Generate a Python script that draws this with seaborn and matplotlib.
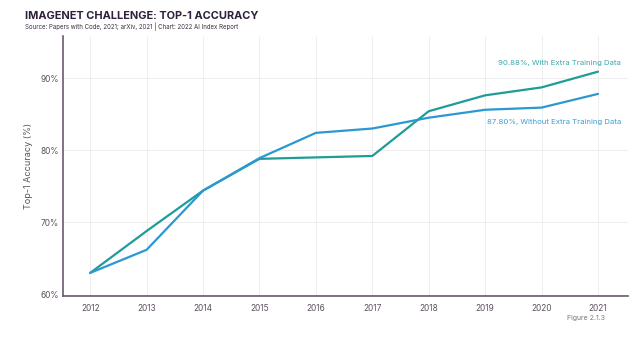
import matplotlib
matplotlib.use("Agg")
import matplotlib.pyplot as plt
import seaborn as sns
import pandas as pd

years = [2012, 2013, 2014, 2015, 2016, 2017, 2018, 2019, 2020, 2021]
with_extra = [63.0, 68.8, 74.4, 78.8, 79.0, 79.2, 85.4, 87.6, 88.7, 90.88]
without_extra = [63.0, 66.2, 74.4, 78.9, 82.4, 83.0, 84.5, 85.6, 85.9, 87.80]
series_names = ["With Extra Training Data", "Without Extra Training Data"]
y_ticks = [60, 70, 80, 90]
y_tick_labels = ["60%", "70%", "80%", "90%"]

df = pd.DataFrame({
    "Year": years * 2,
    "Accuracy": with_extra + without_extra,
    "Series": [series_names[0]] * len(years) + [series_names[1]] * len(years),
})

sns.set_theme(style="white")
plt.rcParams["font.family"] = ["Inter", "DejaVu Sans"]

teal = "#1f9c97"
blue = "#2b98d2"
spine_c = "#6b5a6e"
tick_c = "#5e5060"

fig = plt.figure(figsize=(6.44, 3.41), dpi=100)
ax = fig.add_axes([0.098, 0.132, 0.877, 0.762])

sns.lineplot(data=df, x="Year", y="Accuracy", hue="Series",
             palette={series_names[0]: teal, series_names[1]: blue},
             linewidth=1.6, legend=False, ax=ax)

ax.set_xlim(2011.52, 2021.53)
ax.set_ylim(59.8, 95.8)
ax.set_xticks(years)
ax.set_xticklabels([str(y) for y in years])
ax.set_yticks(y_ticks)
ax.set_yticklabels(y_tick_labels)
ax.tick_params(axis="x", labelsize=6, colors=tick_c, length=0, pad=6)
ax.tick_params(axis="y", labelsize=6, colors=tick_c, length=0, pad=3)
ax.set_xlabel("")
ax.set_ylabel("Top-1 Accuracy (%)", fontsize=6.5, color=tick_c)
ax.yaxis.set_label_coords(-0.053, 0.5)

ax.grid(True, color="#eeeeee", linewidth=0.7)
for s in ["top", "right"]:
    ax.spines[s].set_visible(False)
for s in ["left", "bottom"]:
    ax.spines[s].set_color(spine_c)
    ax.spines[s].set_linewidth(1.2)

ax.text(2021.41, with_extra[-1] + 1.2, f"{with_extra[-1]:.2f}%, With Extra Training Data",
        color="#3aa8a6", fontsize=5.6, ha="right", va="center")
ax.text(2021.41, without_extra[-1] - 3.9, f"{without_extra[-1]:.2f}%, Without Extra Training Data",
        color="#3a9ed2", fontsize=5.6, ha="right", va="center")

fig.text(0.039, 0.954, "IMAGENET CHALLENGE: TOP-1 ACCURACY", fontsize=7.9,
         fontweight="bold", color="#2e1f3a", ha="left", va="center")
fig.text(0.039, 0.921, "Source: Papers with Code, 2021; arXiv, 2021 | Chart: 2022 AI Index Report",
         fontsize=4.4, color="#3d3040", ha="left", va="center")
fig.text(0.94, 0.068, "Figure 2.1.3", fontsize=5, color="#777777", ha="right", va="center")

fig.savefig("out.png", dpi=100, facecolor="white")
